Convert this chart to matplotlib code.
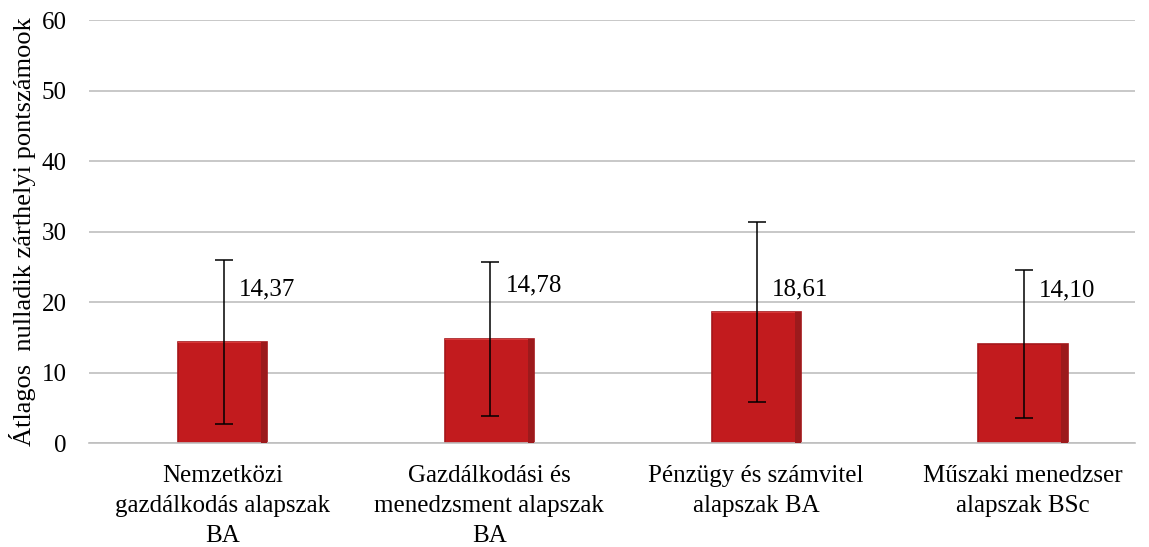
import matplotlib.pyplot as plt
import numpy as np

plt.rcParams['font.family'] = ['Liberation Serif', 'DejaVu Serif']

# data
categories = ["Nemzetközi\ngazdálkodás alapszak\nBA",
              "Gazdálkodási és\nmenedzsment alapszak\nBA",
              "Pénzügy és számvitel\nalapszak BA",
              "Műszaki menedzser\nalapszak BSc"]
means = [14.37, 14.78, 18.61, 14.10]
sds = [11.6, 10.9, 12.8, 10.5]
label_y = [21.8, 22.3, 21.8, 21.6]

fig = plt.figure(figsize=(11.49, 5.47), dpi=100)
ax = fig.add_axes([0.0775, 0.19, 0.9105, 0.7734])

x = np.arange(len(categories))
w = 0.335
ax.bar(x, means, width=w, color='#C21B1E', edgecolor='#A5161A', linewidth=1.2, zorder=2)
# light top / dark right side to mimic the bevel
ax.bar(x, [0.12] * len(x), bottom=np.array(means) - 0.12, width=w, color='#D83A3A',
       linewidth=0, zorder=3)
ax.bar(x + w / 2 - 0.012, means, width=0.024, color='#9C1A1C', linewidth=0, zorder=3)

ax.errorbar(x + 0.004, means, yerr=sds, fmt='none', ecolor='black', elinewidth=1.1,
            capsize=6.5, capthick=1.1, zorder=4)

for xi, m, ly in zip(x, means, label_y):
    ax.text(xi + 0.06, ly, f"{m:.2f}".replace('.', ','), fontsize=18,
            ha='left', va='center', zorder=5)

ax.set_ylim(0, 60)
ax.set_xlim(-0.5, 3.42)
ax.set_yticks(range(0, 61, 10))
ax.yaxis.grid(True, color='#BFBFBF', linewidth=1.2, zorder=0)
ax.set_axisbelow(True)
for s in ['top', 'right', 'left']:
    ax.spines[s].set_visible(False)
ax.spines['bottom'].set_color('#BFBFBF')
ax.spines['bottom'].set_linewidth(1.2)
ax.tick_params(length=0, labelsize=18)
ax.tick_params(axis='y', pad=16)
ax.set_xticks(x)
ax.set_xticklabels(categories, linespacing=1.45)
ax.tick_params(axis='x', pad=16)
ax.set_ylabel("Átlagos  nulladik zárthelyi pontszámook", fontsize=19, labelpad=4)

fig.savefig('out.png', dpi=100)
